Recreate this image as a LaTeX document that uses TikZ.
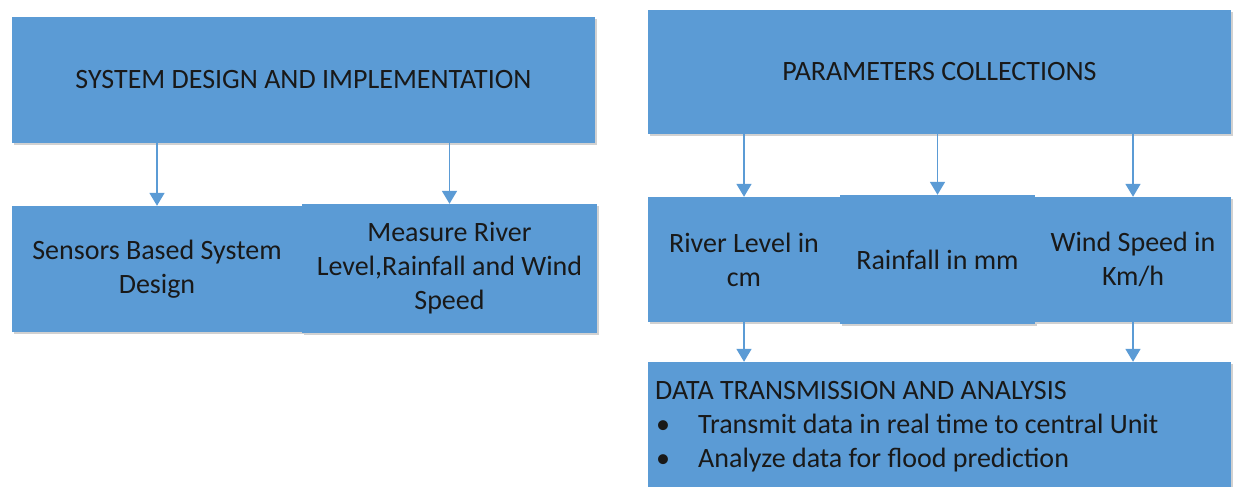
\documentclass[tikz,border=0pt]{standalone}
\usepackage{fontspec}
\setmainfont{Carlito}
\usetikzlibrary{arrows.meta,shadows}
\definecolor{boxblue}{HTML}{5B9BD5}
\definecolor{linkblue}{HTML}{5B9BD5}
\tikzset{
  blockbox/.style={fill=boxblue, draw=none, inner sep=0pt, align=center,
    font=\fontsize{28}{34}\selectfont, text=black!90,
    drop shadow={shadow xshift=1.5pt, shadow yshift=-2pt, opacity=0.18, fill=black}},
  linkarrow/.style={draw=linkblue, line width=1.8pt,
    -{Triangle[width=15pt,length=13pt]}}
}
\begin{document}
\begin{tikzpicture}[x=1pt,y=-1pt]
\useasboundingbox (0,0) rectangle (1235,487);

% left branch
\node[blockbox, minimum width=583pt, minimum height=126pt] (sys) at (303.5,80)
  {SYSTEM DESIGN AND IMPLEMENTATION};
\node[blockbox, minimum width=290pt, minimum height=126pt] (sens) at (157,269)
  {Sensors Based System\\Design};
\node[blockbox, minimum width=295pt, minimum height=129pt] (meas) at (449.5,268.5)
  {Measure River\\Level,Rainfall and Wind\\Speed};

% right branch
\node[blockbox, minimum width=583pt, minimum height=124pt] (par) at (939.5,72)
  {PARAMETERS COLLECTIONS};
\node[blockbox, minimum width=192pt, minimum height=125pt] (river) at (744,259.5)
  {River Level in\\cm};
\node[blockbox, minimum width=195pt, minimum height=129pt] (rain) at (937.5,259.5)
  {Rainfall in mm};
\node[blockbox, minimum width=196pt, minimum height=125pt] (wind) at (1133,259.5)
  {Wind Speed in\\Km/h};
\node[blockbox, minimum width=583pt, minimum height=130pt] (data) at (939.5,427) {};
\node[anchor=north west, inner sep=0pt, font=\fontsize{28}{34}\selectfont,
  text=black!90, align=left] (datatxt) at (655,381)
  {DATA TRANSMISSION AND ANALYSIS\\
   \makebox[43pt][l]{\hspace{1pt}\textbullet}Transmit data in real time to central Unit\\
   \makebox[43pt][l]{\hspace{1pt}\textbullet}Analyze data for flood prediction};

% connectors
\draw[linkarrow] (sys.south -| sens) -- (sens.north);
\draw[linkarrow] (sys.south -| meas) -- (meas.north);
\draw[linkarrow] (par.south -| river) -- (river.north);
\draw[linkarrow] (par.south -| rain) -- (rain.north);
\draw[linkarrow] (par.south -| wind) -- (wind.north);
\draw[linkarrow] (river.south) -- (river.south |- data.north);
\draw[linkarrow] (wind.south) -- (wind.south |- data.north);
\end{tikzpicture}
\end{document}
